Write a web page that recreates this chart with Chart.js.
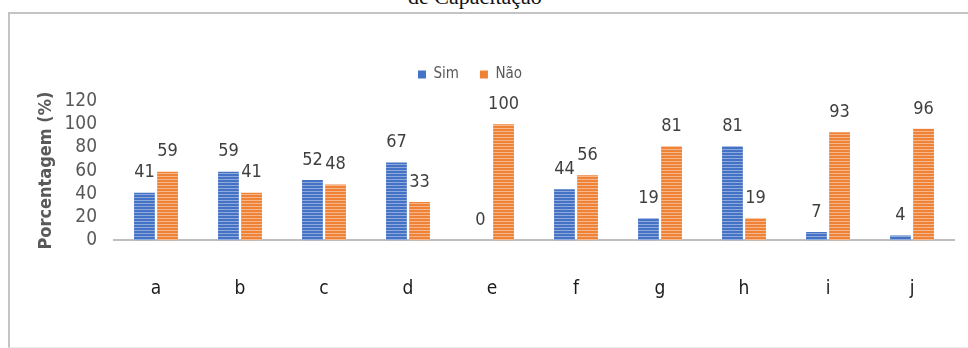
<!DOCTYPE html>
<html>
<head>
<meta charset="utf-8">
<script src="https://cdn.jsdelivr.net/npm/chart.js@4"></script>
<style>
  html, body { margin: 0; padding: 0; background: #fff; }
  #wrap { position: relative; width: 968px; height: 348px; overflow: hidden; }
  #frame { position: absolute; left: 8px; top: 12px; width: 980px; height: 333px;
           border-top: 2px solid #c4c4c4; border-left: 2px solid #c4c4c4; border-bottom: 1px solid #ececec; }
  #head { position: absolute; left: 0; width: 950px; top: -16px; text-align: center;
          font: 22px "Liberation Serif", serif; color: #111; }
  #chart { position: absolute; left: 0; top: 0; width: 968px; height: 348px; }
</style>
</head>
<body>
<div id="wrap">
  <div id="head">de Capacitação</div>
  <div id="frame"></div>
  <canvas id="chart" width="968" height="348"></canvas>
</div>
<script>
const categorias = ['a', 'b', 'c', 'd', 'e', 'f', 'g', 'h', 'i', 'j'];
const sim = [41, 59, 52, 67, 0, 44, 19, 81, 7, 4];
const nao = [59, 41, 48, 33, 100, 56, 81, 19, 93, 96];
const yTicks = [0, 20, 40, 60, 80, 100, 120];

const fonte = '"DejaVu Sans Condensed", "Liberation Sans Narrow", sans-serif';

// barras com listras horizontais claras
function listras(base, linha) {
  const c = document.createElement('canvas');
  c.width = 4; c.height = 3;
  const g = c.getContext('2d');
  g.fillStyle = base; g.fillRect(0, 0, 4, 3);
  g.fillStyle = linha; g.fillRect(0, 2, 4, 1);
  return g.createPattern(c, 'repeat');
}

// valores acima de cada barra
const rotulos = {
  id: 'rotulos',
  afterDatasetsDraw(chart) {
    const ctx = chart.ctx;
    ctx.save();
    ctx.font = '18px ' + fonte;
    ctx.fillStyle = '#404040';
    ctx.textAlign = 'center';
    ctx.textBaseline = 'bottom';
    chart.data.datasets.forEach((ds, i) => {
      chart.getDatasetMeta(i).data.forEach((bar, j) => {
        ctx.fillText(String(ds.data[j]), bar.x, bar.y - 11);
      });
    });
    ctx.restore();
  }
};

// legenda: altura fixa e deslocada um pouco para a esquerda
const ajusteLegenda = {
  id: 'ajusteLegenda',
  beforeUpdate(chart) {
    const lg = chart.legend;
    if (lg && !lg._fitOriginal) {
      lg._fitOriginal = lg.fit;
      lg.fit = function () { this._fitOriginal(); this.height = 55; };
    }
  },
  afterLayout(chart) {
    if (chart.legend) { chart.legend.left -= 22; chart.legend.right -= 22; }
  }
};

new Chart(document.getElementById('chart'), {
  type: 'bar',
  data: {
    labels: categorias,
    datasets: [
      { label: 'Sim', data: sim, backgroundColor: listras('#4472c4', '#8fa9dc'), borderWidth: 0 },
      { label: 'Não', data: nao, backgroundColor: listras('#ee8236', '#f6b58a'), borderWidth: 0 }
    ]
  },
  options: {
    responsive: false,
    maintainAspectRatio: false,
    animation: false,
    layout: { padding: { left: 30, right: 14, top: 46, bottom: 11 } },
    datasets: { bar: { categoryPercentage: 0.55, barPercentage: 0.9 } },
    plugins: {
      legend: {
        position: 'top',
        labels: {
          boxWidth: 8, boxHeight: 8, padding: 21,
          color: '#595959',
          font: { family: fonte, size: 15 },
          generateLabels(chart) {
            return chart.data.datasets.map((ds, i) => ({
              text: ds.label,
              fillStyle: i === 0 ? '#4472c4' : '#ee8236',
              strokeStyle: 'transparent', lineWidth: 0,
              fontColor: '#595959', datasetIndex: i
            }));
          }
        }
      },
      tooltip: { enabled: false }
    },
    scales: {
      x: {
        grid: { display: false, drawTicks: false },
        border: { display: true, color: '#bfbfbf', width: 2 },
        ticks: { color: '#1a1a1a', padding: 37, font: { family: fonte, size: 19 } }
      },
      y: {
        min: 0, max: 120,
        afterBuildTicks(scale) { scale.ticks = yTicks.map(v => ({ value: v })); },
        afterFit(scale) { scale.width = 84; },
        grid: { display: false, drawTicks: false },
        border: { display: false },
        ticks: { autoSkip: false, color: '#595959', padding: 17, font: { family: fonte, size: 19 } },
        title: {
          display: true, text: 'Porcentagem (%)', color: '#595959',
          padding: { top: 6, bottom: 0 },
          font: { family: fonte, size: 18, weight: 'bold' }
        }
      }
    }
  },
  plugins: [rotulos, ajusteLegenda]
});
</script>
</body>
</html>
